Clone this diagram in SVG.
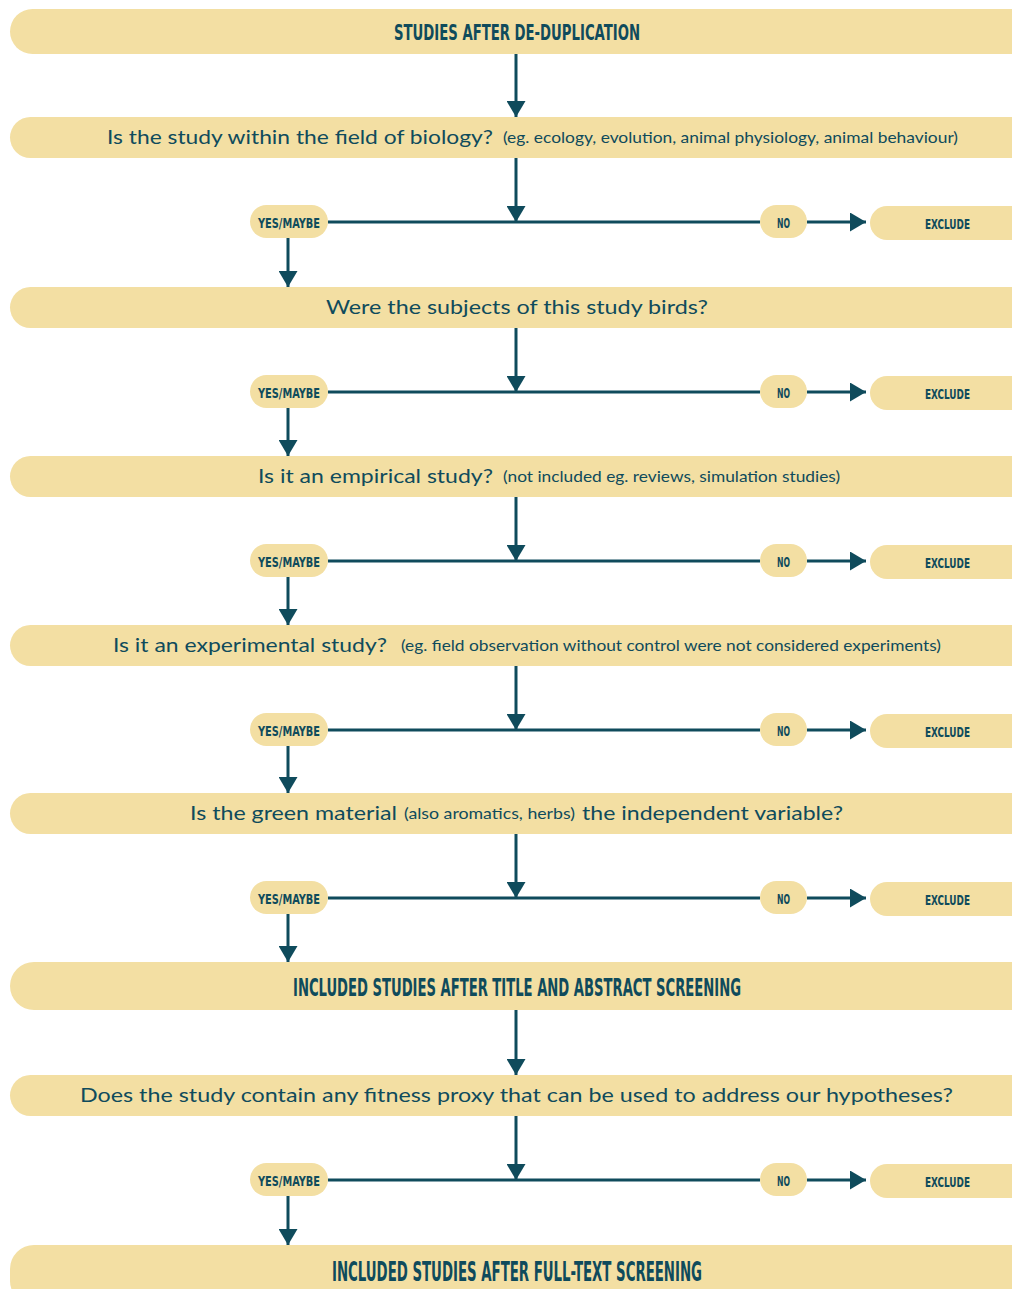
<svg xmlns="http://www.w3.org/2000/svg" width="1012" height="1289" viewBox="0 0 1012 1289">
<style>
.box{fill:#F3DFA3}
.h{font-family:"DejaVu Sans Condensed","DejaVu Sans",sans-serif;font-weight:bold;fill:#0F4B5C}
.q{font-family:Lato,"Open Sans",sans-serif;fill:#0F4B5C;font-size:20px}
.s{font-family:Lato,"Open Sans",sans-serif;fill:#0F4B5C;font-size:15px}
.p{font-family:"DejaVu Sans Condensed","DejaVu Sans",sans-serif;font-weight:bold;fill:#0F4B5C;font-size:14px}
.c{stroke:#0F4B5C;stroke-width:3;fill:none}
.a{marker-end:url(#ah)}
</style>
<defs>
<marker id="ah" markerUnits="userSpaceOnUse" markerWidth="16" markerHeight="19" refX="16" refY="9.5" orient="auto">
<path d="M0,0 L16,9.5 L0,19 Z" fill="#0F4B5C"/>
</marker>
</defs>
<rect width="1012" height="1289" fill="#FFFFFF"/>

<g id="connectors">
<line class="c a" x1="516" y1="54" x2="516" y2="117"/>
<line class="c a" x1="516" y1="158" x2="516" y2="222"/>
<line class="c" x1="328" y1="222" x2="760" y2="222"/>
<line class="c a" x1="807" y1="222" x2="866" y2="222"/>
<line class="c a" x1="288" y1="238" x2="288" y2="287"/>

<line class="c a" x1="516" y1="328" x2="516" y2="392"/>
<line class="c" x1="328" y1="392" x2="760" y2="392"/>
<line class="c a" x1="807" y1="392" x2="866" y2="392"/>
<line class="c a" x1="288" y1="408" x2="288" y2="456"/>

<line class="c a" x1="516" y1="497" x2="516" y2="561"/>
<line class="c" x1="328" y1="561" x2="760" y2="561"/>
<line class="c a" x1="807" y1="561" x2="866" y2="561"/>
<line class="c a" x1="288" y1="577" x2="288" y2="625"/>

<line class="c a" x1="516" y1="666" x2="516" y2="730"/>
<line class="c" x1="328" y1="730" x2="760" y2="730"/>
<line class="c a" x1="807" y1="730" x2="866" y2="730"/>
<line class="c a" x1="288" y1="746" x2="288" y2="793"/>

<line class="c a" x1="516" y1="834" x2="516" y2="898"/>
<line class="c" x1="328" y1="898" x2="760" y2="898"/>
<line class="c a" x1="807" y1="898" x2="866" y2="898"/>
<line class="c a" x1="288" y1="914" x2="288" y2="962"/>

<line class="c a" x1="516" y1="1010" x2="516" y2="1075"/>
<line class="c a" x1="516" y1="1116" x2="516" y2="1180"/>
<line class="c" x1="328" y1="1180" x2="760" y2="1180"/>
<line class="c a" x1="807" y1="1180" x2="866" y2="1180"/>
<line class="c a" x1="288" y1="1196" x2="288" y2="1245"/>
</g>

<g id="n-start">
<rect class="box" x="10" y="9" width="1040" height="45" rx="22.5"/>
<text class="h" x="394" y="40" font-size="22" textLength="246" lengthAdjust="spacingAndGlyphs">STUDIES AFTER DE-DUPLICATION</text>
</g>

<g id="n-q1">
<rect class="box" x="10" y="117" width="1040" height="41" rx="20.5"/>
<text class="q" x="107" y="144" textLength="386" lengthAdjust="spacingAndGlyphs">Is the study within the field of biology?</text>
<text class="s" x="503" y="143" textLength="455" lengthAdjust="spacingAndGlyphs">(eg. ecology, evolution, animal physiology, animal behaviour)</text>
</g>
<g id="n-yes1"><rect class="box" x="250" y="205" width="78" height="33" rx="16.5"/><text class="p" x="258" y="228" textLength="62" lengthAdjust="spacingAndGlyphs">YES/MAYBE</text></g>
<g id="n-no1"><rect class="box" x="760" y="205" width="47" height="33" rx="16.5"/><text class="p" x="777" y="228" textLength="13" lengthAdjust="spacingAndGlyphs">NO</text></g>
<g id="n-ex1"><rect class="box" x="870" y="206" width="180" height="34" rx="17"/><text class="p" x="925" y="229" textLength="45" lengthAdjust="spacingAndGlyphs">EXCLUDE</text></g>

<g id="n-q2">
<rect class="box" x="10" y="287" width="1040" height="41" rx="20.5"/>
<text class="q" x="326" y="314" textLength="382" lengthAdjust="spacingAndGlyphs">Were the subjects of this study birds?</text>
</g>
<g id="n-yes2"><rect class="box" x="250" y="375" width="78" height="33" rx="16.5"/><text class="p" x="258" y="398" textLength="62" lengthAdjust="spacingAndGlyphs">YES/MAYBE</text></g>
<g id="n-no2"><rect class="box" x="760" y="375" width="47" height="33" rx="16.5"/><text class="p" x="777" y="398" textLength="13" lengthAdjust="spacingAndGlyphs">NO</text></g>
<g id="n-ex2"><rect class="box" x="870" y="376" width="180" height="34" rx="17"/><text class="p" x="925" y="399" textLength="45" lengthAdjust="spacingAndGlyphs">EXCLUDE</text></g>

<g id="n-q3">
<rect class="box" x="10" y="456" width="1040" height="41" rx="20.5"/>
<text class="q" x="258" y="483" textLength="235" lengthAdjust="spacingAndGlyphs">Is it an empirical study?</text>
<text class="s" x="503" y="482" textLength="337" lengthAdjust="spacingAndGlyphs">(not included eg. reviews, simulation studies)</text>
</g>
<g id="n-yes3"><rect class="box" x="250" y="544" width="78" height="33" rx="16.5"/><text class="p" x="258" y="567" textLength="62" lengthAdjust="spacingAndGlyphs">YES/MAYBE</text></g>
<g id="n-no3"><rect class="box" x="760" y="544" width="47" height="33" rx="16.5"/><text class="p" x="777" y="567" textLength="13" lengthAdjust="spacingAndGlyphs">NO</text></g>
<g id="n-ex3"><rect class="box" x="870" y="545" width="180" height="34" rx="17"/><text class="p" x="925" y="568" textLength="45" lengthAdjust="spacingAndGlyphs">EXCLUDE</text></g>

<g id="n-q4">
<rect class="box" x="10" y="625" width="1040" height="41" rx="20.5"/>
<text class="q" x="113" y="652" textLength="274" lengthAdjust="spacingAndGlyphs">Is it an experimental study?</text>
<text class="s" x="401" y="651" textLength="540" lengthAdjust="spacingAndGlyphs">(eg. field observation without control were not considered experiments)</text>
</g>
<g id="n-yes4"><rect class="box" x="250" y="713" width="78" height="33" rx="16.5"/><text class="p" x="258" y="736" textLength="62" lengthAdjust="spacingAndGlyphs">YES/MAYBE</text></g>
<g id="n-no4"><rect class="box" x="760" y="713" width="47" height="33" rx="16.5"/><text class="p" x="777" y="736" textLength="13" lengthAdjust="spacingAndGlyphs">NO</text></g>
<g id="n-ex4"><rect class="box" x="870" y="714" width="180" height="34" rx="17"/><text class="p" x="925" y="737" textLength="45" lengthAdjust="spacingAndGlyphs">EXCLUDE</text></g>

<g id="n-q5">
<rect class="box" x="10" y="793" width="1040" height="41" rx="20.5"/>
<text class="q" x="190" y="820" textLength="207" lengthAdjust="spacingAndGlyphs">Is the green material</text>
<text class="s" x="404" y="819" textLength="171" lengthAdjust="spacingAndGlyphs">(also aromatics, herbs)</text>
<text class="q" x="582" y="820" textLength="261" lengthAdjust="spacingAndGlyphs">the independent variable?</text>
</g>
<g id="n-yes5"><rect class="box" x="250" y="881" width="78" height="33" rx="16.5"/><text class="p" x="258" y="904" textLength="62" lengthAdjust="spacingAndGlyphs">YES/MAYBE</text></g>
<g id="n-no5"><rect class="box" x="760" y="881" width="47" height="33" rx="16.5"/><text class="p" x="777" y="904" textLength="13" lengthAdjust="spacingAndGlyphs">NO</text></g>
<g id="n-ex5"><rect class="box" x="870" y="882" width="180" height="34" rx="17"/><text class="p" x="925" y="905" textLength="45" lengthAdjust="spacingAndGlyphs">EXCLUDE</text></g>

<g id="n-included-ta">
<rect class="box" x="10" y="962" width="1040" height="48" rx="24"/>
<text class="h" x="0" y="0" font-size="18" textLength="448" lengthAdjust="spacingAndGlyphs" transform="translate(293 996) scale(1 1.33)">INCLUDED STUDIES AFTER TITLE AND ABSTRACT SCREENING</text>
</g>

<g id="n-q6">
<rect class="box" x="10" y="1075" width="1040" height="41" rx="20.5"/>
<text class="q" x="80" y="1102" textLength="873" lengthAdjust="spacingAndGlyphs">Does the study contain any fitness proxy that can be used to address our hypotheses?</text>
</g>
<g id="n-yes6"><rect class="box" x="250" y="1163" width="78" height="33" rx="16.5"/><text class="p" x="258" y="1186" textLength="62" lengthAdjust="spacingAndGlyphs">YES/MAYBE</text></g>
<g id="n-no6"><rect class="box" x="760" y="1163" width="47" height="33" rx="16.5"/><text class="p" x="777" y="1186" textLength="13" lengthAdjust="spacingAndGlyphs">NO</text></g>
<g id="n-ex6"><rect class="box" x="870" y="1164" width="180" height="34" rx="17"/><text class="p" x="925" y="1187" textLength="45" lengthAdjust="spacingAndGlyphs">EXCLUDE</text></g>

<g id="n-included-ft">
<rect class="box" x="10" y="1245" width="1040" height="60" rx="24"/>
<text class="h" x="332" y="1281" font-size="26" textLength="370" lengthAdjust="spacingAndGlyphs">INCLUDED STUDIES AFTER FULL-TEXT SCREENING</text>
</g>
</svg>
